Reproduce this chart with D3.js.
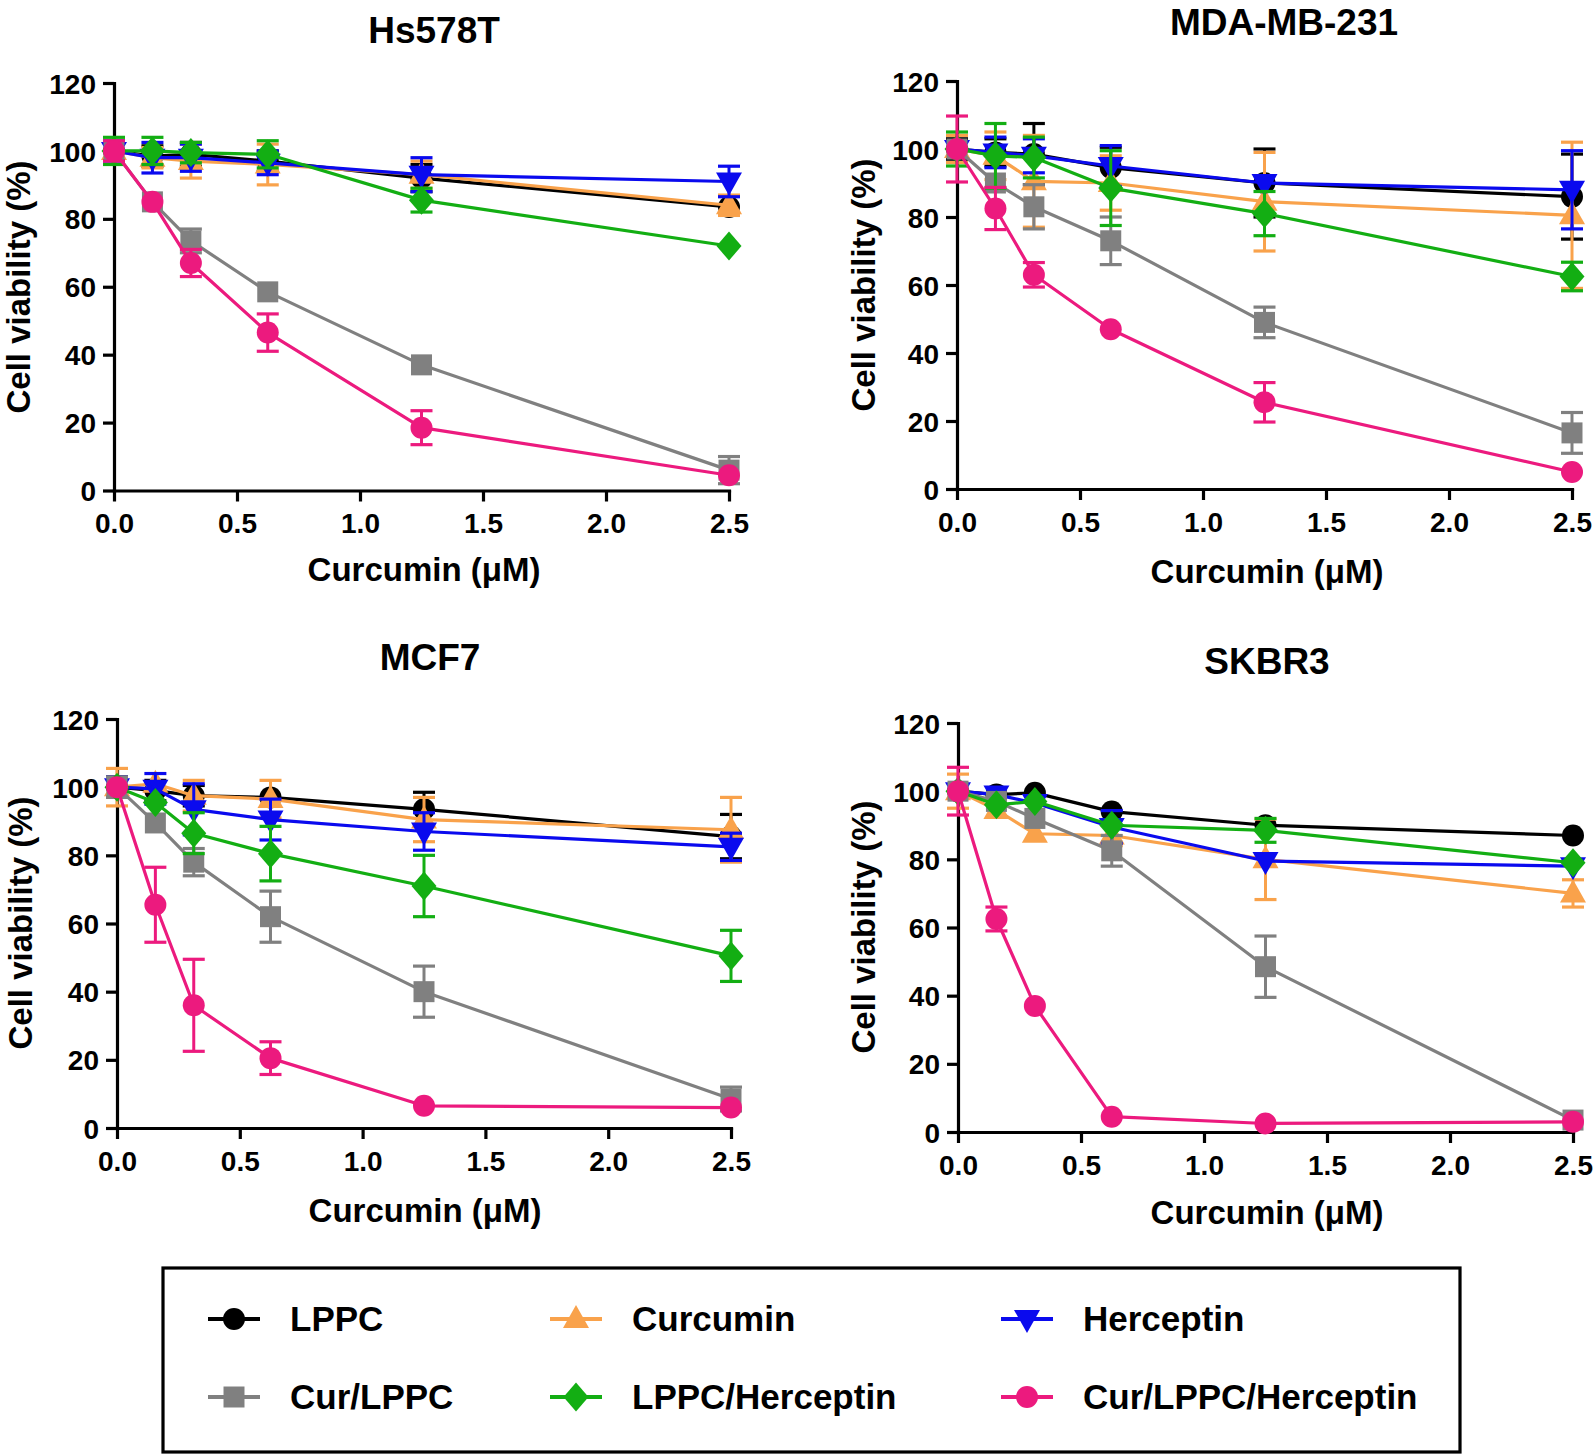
<!DOCTYPE html>
<html>
<head>
<meta charset="utf-8">
<script src="https://cdn.jsdelivr.net/npm/d3@7"></script>
<style>
  html, body { margin: 0; padding: 0; background: #fff; }
  svg { display: block; }
  text { font-family: "Liberation Sans", Arial, sans-serif; font-weight: bold; fill: #000; }
</style>
</head>
<body>
<svg id="chart" width="1595" height="1456"></svg>
<script>
// ---------------- DATA ----------------
const doses = [0, 0.15625, 0.3125, 0.625, 1.25, 2.5];
const seriesNames = ["LPPC", "Curcumin", "Herceptin", "Cur/LPPC", "LPPC/Herceptin", "Cur/LPPC/Herceptin"];
const cellLines = ["Hs578T", "MDA-MB-231", "MCF7", "SKBR3"];
const xTicks = [0, 0.5, 1.0, 1.5, 2.0, 2.5];
const yTicks = [0, 20, 40, 60, 80, 100, 120];
const xAxisTitle = "Curcumin (\u03BCM)";
const yAxisTitle = "Cell viability (%)";

// means (rows follow seriesNames)
const hs578tMeans = [
  [100, 98.5, 99, 97, 92, 83.5],
  [100, 98, 97, 96, 93, 84],
  [100, 98, 98, 96.5, 93, 91],
  [100, 85, 73.5, 58.5, 37, 6],
  [100, 100, 99.5, 99, 85.5, 72],
  [100, 85, 67, 46.5, 18.5, 4.5]
];
const hs578tErrors = [
  [2, 3, 3.5, 3, 4, 2],
  [2, 3, 5, 6, 4, 3],
  [3, 4.5, 4, 3.5, 5, 4.5],
  [2, 1.5, 3.5, 2.5, 1.5, 4],
  [4, 4, 3, 4, 3.5, 1.5],
  [3, 1, 4, 5.5, 5, 1]
];
const mdaMeans = [
  [100, 99, 98.5, 94.5, 90, 86],
  [100, 98, 90.5, 90, 84.5, 80.5],
  [100, 99, 98, 95, 90, 88],
  [100, 90, 83, 73, 49, 16.5],
  [100, 98, 97.5, 88.5, 81, 62.5],
  [100, 82.5, 63, 47, 25.5, 5]
];
const mdaErrors = [
  [3, 4, 9, 6, 10, 12.5],
  [4, 7, 13.5, 8, 14.5, 21.5],
  [2.5, 4.5, 5, 6, 2, 11.5],
  [2, 2, 6.5, 7, 4.5, 6],
  [5, 9.5, 6, 11, 6.5, 4.2],
  [9.7, 6.2, 3.6, 1, 5.8, 1]
];
const mcf7Means = [
  [100, 99, 97.5, 97, 93.5, 85.5],
  [100, 101, 97.5, 96.5, 90.5, 87.5],
  [100, 99.5, 93.5, 90.5, 87, 82.5],
  [100, 89.5, 78, 62, 40, 8.5],
  [100, 95.5, 86.5, 80.5, 71, 50.5],
  [100, 65.5, 36, 20.5, 6.5, 6]
];
const mcf7Errors = [
  [3, 3, 3, 2.5, 5, 6.5],
  [5.5, 2, 4.5, 5.5, 6.5, 9.5],
  [3, 4.5, 7.5, 6, 5.5, 4],
  [3, 2, 4, 7.5, 7.5, 3.5],
  [2, 2, 6, 8, 9, 7.5],
  [2, 11, 13.5, 4.8, 1, 1]
];
const skbr3Means = [
  [100, 99, 99.5, 94, 90, 87],
  [100, 94.5, 87.5, 87, 80, 70],
  [100, 99, 96.5, 89.5, 79.5, 78],
  [100, 97, 92, 82.5, 48.5, 3.5],
  [100, 96, 97, 90, 88.5, 79],
  [100, 62.5, 37, 4.5, 2.5, 3]
];
const skbr3Errors = [
  [1, 1, 1, 1.5, 1, 1],
  [5, 2, 2, 3, 11.8, 4],
  [2, 1.5, 1.5, 4.8, 1.5, 2],
  [2, 1.5, 2, 4.5, 9, 1],
  [1.5, 1.5, 1.5, 1.5, 3.5, 1.5],
  [7, 3.5, 1, 1, 1, 1]
];

// ---------------- STYLE ----------------
const colors = ["#000000", "#F9A24B", "#0A0AEE", "#808080", "#13AE13", "#EC1A7E"];
const shapes = ["circle", "triangleUp", "triangleDown", "square", "diamond", "circle"];

const panels = [
  { means: hs578tMeans, errs: hs578tErrors, x0: 114, x1: 729, yTop: 83, yBot: 490.5,
    tx: 434, ty: 43, lx: 424, ly: 581, yx: 30, yy: 287 },
  { means: mdaMeans, errs: mdaErrors, x0: 957, x1: 1572, yTop: 81, yBot: 489,
    tx: 1284, ty: 35, lx: 1267, ly: 583, yx: 875, yy: 285 },
  { means: mcf7Means, errs: mcf7Errors, x0: 117, x1: 731, yTop: 719, yBot: 1128,
    tx: 430, ty: 670, lx: 425, ly: 1222, yx: 32, yy: 923 },
  { means: skbr3Means, errs: skbr3Errors, x0: 958, x1: 1573, yTop: 723, yBot: 1132,
    tx: 1267, ty: 674, lx: 1267, ly: 1224, yx: 875, yy: 927 }
];

function markerPath(shape) {
  switch (shape) {
    case "circle": { const r = 11; return `M${-r},0A${r},${r} 0 1,0 ${r},0A${r},${r} 0 1,0 ${-r},0Z`; }
    case "square": return "M-10.5,-10.5H10.5V10.5H-10.5Z";
    case "triangleUp": return "M0,-14L13,9L-13,9Z";
    case "triangleDown": return "M0,14L13,-9L-13,-9Z";
    case "diamond": return "M0,-14.5L12.5,0L0,14.5L-12.5,0Z";
  }
}

const svg = d3.select("#chart");

panels.forEach((p, pi) => {
  const x = d3.scaleLinear().domain([0, 2.5]).range([p.x0, p.x1]);
  const y = d3.scaleLinear().domain([0, 120]).range([p.yBot, p.yTop]);
  const g = svg.append("g");

  // axes
  const yAxis = d3.axisLeft(y).tickValues(yTicks).tickFormat(d3.format("d"))
    .tickSize(11).tickSizeOuter(0).tickPadding(7);
  const xAxis = d3.axisBottom(x).tickValues(xTicks).tickFormat(d3.format(".1f"))
    .tickSize(11).tickSizeOuter(0).tickPadding(10);

  const ya = g.append("g").attr("transform", `translate(${p.x0},0)`).call(yAxis);
  const xa = g.append("g").attr("transform", `translate(0,${p.yBot})`).call(xAxis);
  [ya, xa].forEach(a => {
    a.select(".domain").attr("stroke", "#000").attr("stroke-width", 3.2).attr("stroke-linecap", "square");
    a.selectAll(".tick line").attr("stroke", "#000").attr("stroke-width", 3.2);
    a.selectAll(".tick text").attr("font-size", 28).attr("font-family", "Liberation Sans, Arial, sans-serif")
      .attr("font-weight", "bold").attr("fill", "#000");
  });
  ya.selectAll(".tick text").attr("dy", "0.36em");
  xa.selectAll(".tick text").attr("dy", "0.78em");

  // titles
  g.append("text").attr("x", p.tx).attr("y", p.ty).attr("text-anchor", "middle")
    .attr("font-size", 37).text(cellLines[pi]);
  g.append("text").attr("x", p.lx).attr("y", p.ly).attr("text-anchor", "middle")
    .attr("font-size", 33).text(xAxisTitle);
  g.append("text").attr("transform", `translate(${p.yx},${p.yy}) rotate(-90)`)
    .attr("text-anchor", "middle").attr("font-size", 33).text(yAxisTitle);

  // series
  const line = d3.line().x(d => x(d.x)).y(d => y(d.y));
  seriesNames.forEach((name, si) => {
    const pts = doses.map((d, i) => ({ x: d, y: p.means[si][i], e: p.errs[si][i] }));
    const sg = g.append("g");
    const col = colors[si];
    // error bars
    const eb = pts.filter(d => (y(d.y - d.e) - y(d.y)) > 9);
    sg.selectAll("line.v").data(eb).join("line")
      .attr("x1", d => x(d.x)).attr("x2", d => x(d.x))
      .attr("y1", d => y(d.y - d.e)).attr("y2", d => y(d.y + d.e))
      .attr("stroke", col).attr("stroke-width", 3);
    sg.selectAll("line.t").data(eb).join("line")
      .attr("x1", d => x(d.x) - 11).attr("x2", d => x(d.x) + 11)
      .attr("y1", d => y(d.y + d.e)).attr("y2", d => y(d.y + d.e))
      .attr("stroke", col).attr("stroke-width", 3.2);
    sg.selectAll("line.b").data(eb).join("line")
      .attr("x1", d => x(d.x) - 11).attr("x2", d => x(d.x) + 11)
      .attr("y1", d => y(d.y - d.e)).attr("y2", d => y(d.y - d.e))
      .attr("stroke", col).attr("stroke-width", 3.2);
    // line
    sg.append("path").datum(pts).attr("d", line).attr("fill", "none")
      .attr("stroke", col).attr("stroke-width", 3.2).attr("stroke-linejoin", "round");
    // markers
    sg.selectAll("path.m").data(pts).join("path").attr("class", "m")
      .attr("d", markerPath(shapes[si]))
      .attr("transform", d => `translate(${x(d.x)},${y(d.y)})`)
      .attr("fill", col);
  });
});

// ---------------- LEGEND ----------------
const legend = svg.append("g");
legend.append("rect").attr("x", 163).attr("y", 1268).attr("width", 1297).attr("height", 184)
  .attr("fill", "none").attr("stroke", "#000").attr("stroke-width", 3.2);
const legCols = [234, 576, 1027];
const legRows = [1319, 1397];
seriesNames.forEach((name, i) => {
  const cx = legCols[i % 3], cy = legRows[Math.floor(i / 3)];
  const lg = legend.append("g").attr("transform", `translate(${cx},${cy})`);
  lg.append("line").attr("x1", -26).attr("x2", 26).attr("y1", 0).attr("y2", 0)
    .attr("stroke", colors[i]).attr("stroke-width", 4);
  lg.append("path").attr("d", markerPath(shapes[i])).attr("fill", colors[i]);
  lg.append("text").attr("x", 56).attr("y", 12).attr("font-size", 35).text(name);
});
</script>
</body>
</html>
